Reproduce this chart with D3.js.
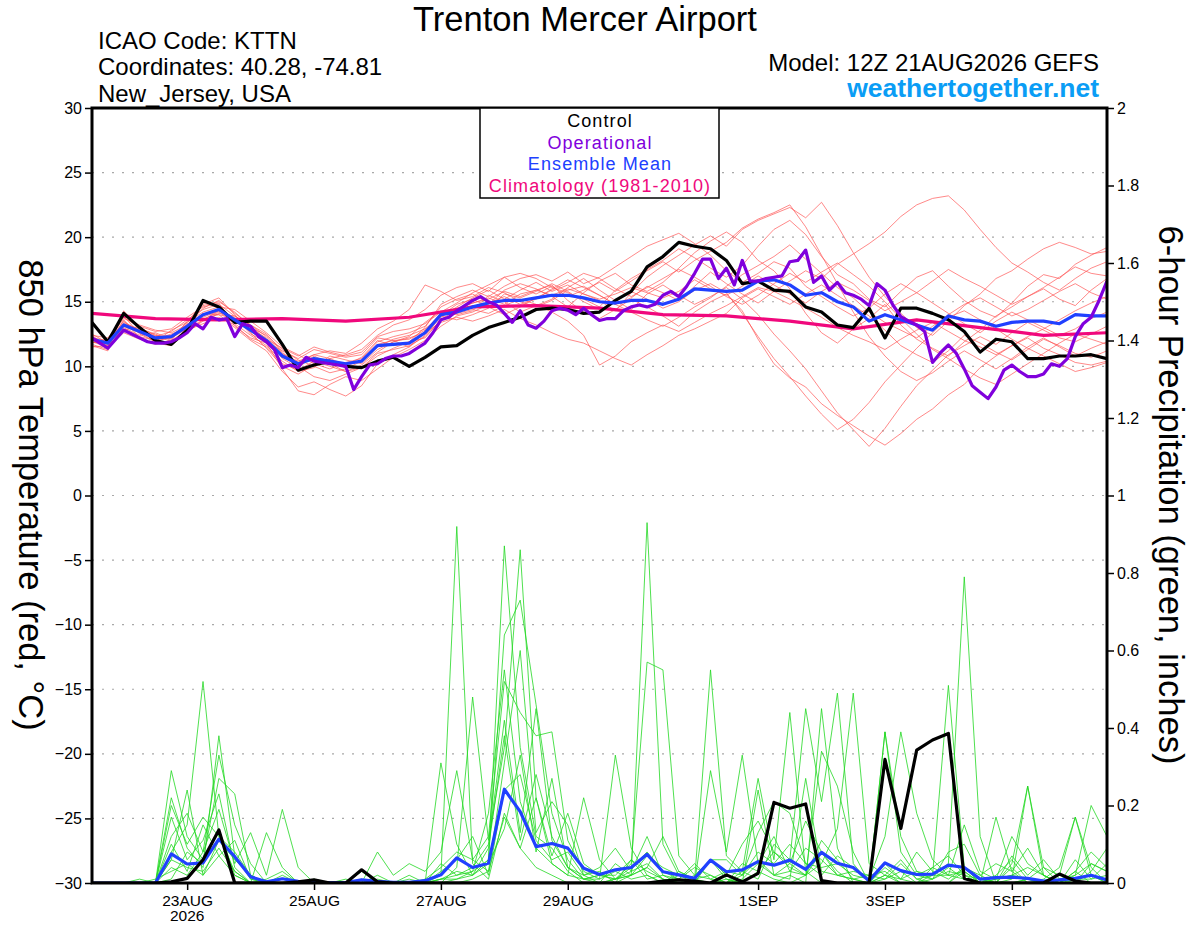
<!DOCTYPE html>
<html>
<head>
<meta charset="utf-8">
<script src="https://cdn.jsdelivr.net/npm/d3@7"></script>
<style>
  body { margin: 0; background: #fff; }
  svg { display: block; font-family: "Liberation Sans", Arial, Helvetica, sans-serif; }
</style>
</head>
<body>
<div id="chart"></div>
<script>
// run start and time steps (6-hourly ensemble, 3-hourly operational, daily climatology)
var runStart = Date.UTC(2026, 7, 21, 12);
var runEnd = Date.UTC(2026, 8, 6, 12);
var tickDates = ["2026-08-23", "2026-08-25", "2026-08-27", "2026-08-29", "2026-09-01", "2026-09-03", "2026-09-05"];
var tempTicks = [-30, -25, -20, -15, -10, -5, 0, 5, 10, 15, 20, 25, 30];
var precTicks = [0, 0.2, 0.4, 0.6, 0.8, 1, 1.2, 1.4, 1.6, 1.8, 2];

// 850 hPa temperature, control run (6-hourly)
var controlTemp = [13.4, 11.9, 14.1, 13.0, 12.0, 11.7, 12.8, 15.1, 14.6, 13.4, 13.5, 13.5, 11.7, 9.7, 10.1, 10.4,
  10.0, 9.9, 10.4, 10.7, 10.0, 10.7, 11.5, 11.6, 12.4, 13.0, 13.4, 13.8, 14.4, 14.5, 14.4, 14.1,
  14.2, 15.1, 15.8, 17.7, 18.5, 19.6, 19.3, 19.1, 18.2, 16.4, 16.6, 15.9, 15.8, 14.6, 14.2, 13.2,
  13.0, 14.5, 12.2, 14.5, 14.5, 14.1, 13.6, 12.7, 11.1, 12.1, 11.9, 10.6, 10.6, 10.8, 10.8, 10.9, 10.6];

// ensemble mean (6-hourly)
var meanTemp = [12.1, 11.8, 13.2, 12.7, 12.2, 12.3, 13.1, 14.0, 14.4, 13.6, 12.8, 12.0, 10.8, 10.2, 10.6, 10.4,
  10.2, 10.4, 11.6, 11.7, 11.8, 12.6, 14.0, 14.2, 14.6, 14.9, 15.1, 15.1, 15.3, 15.5, 15.5, 15.3,
  15.0, 14.9, 15.1, 15.1, 14.8, 15.2, 16.0, 15.9, 15.8, 15.9, 16.6, 16.7, 16.3, 15.5, 15.7, 15.0,
  14.6, 13.5, 14.0, 13.6, 13.2, 12.8, 13.9, 13.6, 13.5, 13.1, 13.4, 13.5, 13.5, 13.3, 14.0, 13.9, 13.9];

// operational run (3-hourly)
var operTemp = [12.2, 11.8, 11.4, 12.1, 12.8, 12.5, 12.2, 11.9, 11.8, 11.8, 11.9, 12.2, 12.6, 13.3, 12.9, 13.8,
  13.6, 13.7, 12.3, 13.3, 13.1, 12.3, 11.9, 11.3, 9.9, 10.1, 9.9, 10.7, 10.4, 10.3, 10.2, 10.1,
  10.0, 8.2, 9.2, 10.1, 10.2, 10.6, 10.8, 10.8, 11.0, 11.4, 11.8, 12.6,
  13.6, 13.8, 14.3, 14.7, 15.1, 15.4, 15.0, 14.75, 14.1, 13.4, 14.3, 13.2, 12.95, 13.5, 14.3, 14.5,
  14.35, 14.0, 14.5, 14.0, 13.55, 13.7, 13.7, 14.3, 14.6, 14.75, 14.6, 14.8, 15.5, 15.8, 15.4, 16.2,
  17.2, 18.3, 18.3, 16.8, 17.6, 16.3, 18.2, 16.6, 16.6, 16.8,
  16.9, 17.0, 18.1, 18.2, 19.0, 16.5, 17.0, 15.9, 16.5, 15.7, 15.5, 15.2, 14.7, 16.4, 15.9, 14.75,
  13.85, 13.5, 13.2, 12.7, 10.3, 11.06, 11.65, 11.0, 9.8, 8.5, 8.0, 7.5, 8.4, 9.7, 10.1, 9.6,
  9.2, 9.2, 9.4, 10.2, 10.0, 10.6, 12.3, 13.3, 13.8, 15.1, 16.6];

// climatology 1981-2010 (daily at 12Z)
var climTemp = [14.1, 13.7, 13.6, 13.7, 13.5, 13.8, 14.6, 14.7, 14.5, 14.0, 13.9, 13.5, 12.9, 13.6, 13.0, 12.4, 12.6];

// ensemble members, temperature (6-hourly)
var tempMembers = [
  [11.6, 11.2, 14.3, 12.9, 12.5, 12.0, 13.5, 14.8, 15.3, 14.0, 12.6, 11.4, 10.0, 9.4, 10.1, 10.6, 10.9, 11.3, 12.4, 13.2, 13.6, 14.4, 15.5, 16.1, 16.4, 15.8, 16.9, 17.2, 16.8, 16.1, 15.7, 15.2, 14.6, 15.9, 16.8, 17.5, 18.2, 19.1, 18.4, 17.6, 16.9, 17.8, 19.3, 20.6, 21.3, 20.2, 18.5, 17.1, 16.4, 15.2, 14.6, 15.8, 16.9, 17.4, 16.2, 15.1, 14.3, 13.8, 14.9, 16.2, 17.1, 16.8, 17.9, 18.6, 19.2],
  [12.4, 11.5, 13.6, 12.2, 11.8, 11.6, 12.7, 13.5, 14.1, 13.9, 13.2, 12.5, 11.1, 10.0, 9.2, 8.9, 9.4, 9.9, 10.8, 11.4, 11.9, 12.2, 13.6, 14.4, 14.9, 15.3, 14.8, 15.6, 15.9, 16.3, 15.1, 14.2, 13.7, 14.4, 15.2, 14.6, 13.9, 13.1, 14.2, 15.0, 15.6, 14.3, 12.1, 10.2, 9.1, 8.4, 7.1, 6.2, 5.4, 4.6, 3.9, 4.8, 5.9, 6.7, 7.8, 8.6, 9.9, 10.8, 11.6, 12.2, 11.4, 10.9, 10.3, 10.1, 10.4],
  [12.0, 11.9, 12.8, 13.1, 12.7, 12.9, 13.8, 14.6, 14.9, 13.1, 12.2, 11.8, 9.8, 8.1, 7.8, 8.6, 9.2, 8.9, 9.8, 10.7, 11.3, 12.0, 13.1, 13.9, 14.2, 14.8, 15.9, 16.4, 16.0, 15.4, 14.6, 15.7, 16.6, 17.2, 16.3, 15.8, 16.5, 17.6, 18.8, 19.7, 20.4, 19.6, 18.2, 17.4, 16.0, 14.1, 12.6, 11.8, 12.9, 13.7, 14.8, 13.2, 12.1, 11.4, 10.8, 11.9, 12.8, 13.9, 14.6, 15.4, 16.0, 15.2, 14.7, 15.9, 16.8],
  [11.8, 12.1, 13.9, 12.5, 11.9, 12.8, 13.4, 14.2, 14.6, 14.4, 13.5, 12.6, 11.5, 10.9, 10.2, 9.8, 10.3, 10.6, 11.9, 12.3, 12.6, 13.1, 14.6, 15.2, 15.6, 14.9, 15.4, 14.8, 15.2, 16.0, 16.7, 16.1, 15.5, 14.8, 15.3, 16.2, 15.7, 15.1, 16.2, 17.3, 16.4, 15.6, 14.9, 15.8, 16.6, 17.4, 16.8, 17.9, 18.7, 19.5, 20.4, 21.6, 22.5, 23.0, 23.2, 22.1, 20.6, 19.2, 18.0, 17.3, 16.5, 15.9, 16.8, 17.6, 18.1],
  [12.3, 11.4, 13.1, 12.6, 12.4, 11.9, 12.6, 13.6, 14.2, 13.4, 12.9, 12.2, 10.6, 9.9, 10.8, 10.2, 9.6, 10.1, 11.1, 11.9, 12.3, 13.4, 14.3, 14.0, 14.3, 15.5, 15.0, 14.2, 14.7, 15.2, 16.1, 16.8, 15.9, 15.1, 14.4, 15.6, 16.3, 15.5, 14.8, 15.4, 16.1, 15.2, 14.0, 12.5, 11.2, 9.8, 8.1, 6.4, 5.1, 3.8, 5.2, 6.9, 8.5, 9.7, 10.9, 11.6, 12.3, 11.7, 12.6, 13.4, 12.8, 12.2, 11.9, 12.5, 13.1],
  [12.0, 11.6, 13.4, 12.8, 12.1, 12.5, 13.0, 13.8, 14.3, 13.8, 12.5, 11.9, 11.2, 10.6, 11.3, 11.0, 10.7, 10.9, 12.2, 12.0, 11.5, 12.4, 13.8, 14.6, 15.3, 15.9, 15.2, 15.9, 16.5, 15.8, 16.3, 15.6, 15.1, 14.3, 15.7, 16.9, 17.8, 18.6, 19.4, 20.1, 19.3, 20.6, 21.3, 21.8, 22.3, 21.5, 22.7, 20.9, 18.8, 16.9, 15.4, 14.1, 13.0, 12.4, 13.5, 14.7, 15.6, 16.8, 17.4, 18.3, 19.1, 19.6, 19.2, 18.7, 18.9],
  [11.9, 11.7, 12.9, 12.3, 12.0, 12.2, 12.9, 13.9, 14.5, 13.3, 12.4, 11.6, 10.4, 9.6, 9.9, 10.8, 10.5, 10.2, 11.3, 11.9, 12.2, 12.6, 13.4, 13.8, 13.5, 13.9, 14.4, 13.7, 13.2, 12.6, 12.1, 11.8, 11.2, 10.6, 10.1, 10.9, 11.6, 12.4, 12.9, 13.5, 14.1, 15.3, 16.0, 15.4, 14.8, 15.6, 16.3, 15.5, 14.7, 13.9, 12.8, 11.6, 10.9, 10.3, 11.2, 12.4, 11.8, 11.1, 10.5, 11.3, 12.1, 11.6, 11.0, 10.7, 11.2],
  [12.2, 12.0, 13.7, 13.2, 12.8, 12.6, 13.2, 14.5, 15.1, 14.1, 13.2, 12.3, 11.0, 10.3, 10.9, 10.6, 10.1, 10.7, 12.0, 11.6, 11.9, 13.0, 14.8, 15.4, 15.9, 15.4, 16.2, 16.8, 17.1, 16.6, 17.3, 16.4, 16.9, 17.7, 18.5, 19.3, 19.8, 20.3, 19.5, 18.6, 17.4, 16.5, 17.2, 18.1, 17.6, 16.2, 15.4, 14.6, 13.9, 14.5, 15.6, 16.4, 15.7, 14.9, 14.1, 13.3, 12.6, 13.5, 14.2, 13.6, 13.0, 12.4, 12.9, 13.7, 14.2],
  [11.7, 11.3, 13.0, 12.4, 12.6, 12.1, 13.3, 13.7, 14.0, 13.7, 13.0, 12.4, 11.3, 10.5, 10.0, 9.5, 9.8, 10.4, 11.5, 12.1, 12.4, 12.9, 13.9, 13.6, 14.0, 14.5, 15.6, 15.3, 15.8, 16.4, 15.8, 15.0, 14.4, 15.0, 15.8, 15.2, 14.5, 15.0, 15.9, 16.4, 15.7, 14.1, 12.3, 10.6, 9.2, 7.7, 6.3, 5.1, 5.9, 7.2, 8.8, 10.1, 11.4, 12.6, 13.8, 14.3, 13.6, 12.9, 12.1, 11.4, 10.8, 10.2, 9.6, 9.9, 10.3],
  [12.5, 11.8, 13.3, 12.9, 12.3, 12.7, 13.6, 14.4, 14.8, 13.9, 13.0, 12.0, 10.9, 10.4, 10.9, 11.2, 11.0, 11.8, 12.9, 13.5, 14.4, 16.3, 15.8, 15.1, 15.4, 16.1, 15.7, 15.0, 14.6, 15.1, 15.9, 16.2, 15.5, 14.8, 14.2, 13.6, 13.1, 13.8, 14.6, 15.3, 16.2, 17.1, 17.8, 18.5, 19.4, 18.3, 17.2, 16.1, 15.3, 14.2, 13.4, 12.8, 12.2, 13.1, 14.0, 14.8, 15.3, 14.6, 13.9, 14.4, 15.1, 15.8, 16.4, 15.7, 15.2],
  [11.9, 11.5, 12.6, 12.1, 11.7, 12.0, 12.8, 13.3, 13.8, 13.2, 12.1, 11.5, 10.2, 9.7, 10.4, 10.0, 9.6, 9.9, 11.0, 11.3, 11.6, 12.3, 13.6, 14.1, 14.4, 14.1, 14.7, 15.2, 14.8, 14.2, 13.5, 12.4, 10.1, 10.8, 11.9, 12.6, 13.2, 12.7, 13.4, 14.1, 14.7, 15.4, 16.1, 15.8, 15.2, 14.5, 13.8, 13.0, 12.4, 11.9, 11.3, 12.1, 12.8, 13.4, 12.7, 12.0, 11.5, 10.9, 11.6, 12.3, 12.9, 13.6, 14.3, 14.9, 15.4],
  [12.1, 11.9, 13.5, 12.6, 11.9, 12.3, 13.1, 14.1, 14.0, 13.0, 12.0, 11.2, 9.6, 8.4, 8.8, 8.2, 7.7, 8.5, 10.2, 10.9, 11.5, 12.7, 13.9, 14.8, 15.2, 14.6, 14.0, 14.6, 15.3, 15.9, 16.5, 17.2, 16.8, 16.0, 15.4, 16.1, 16.8, 17.5, 16.9, 16.2, 15.4, 14.8, 15.5, 16.4, 17.2, 16.5, 17.3, 18.0, 17.1, 16.2, 15.0, 13.7, 12.5, 11.3, 10.6, 9.8, 9.1, 8.6, 9.4, 10.2, 11.0, 11.8, 12.5, 12.1, 11.7],
  [12.4, 12.2, 13.8, 13.0, 12.4, 12.2, 13.4, 14.7, 15.0, 14.2, 13.1, 12.1, 11.4, 10.8, 11.5, 11.1, 10.8, 11.1, 12.3, 12.7, 12.9, 13.3, 14.2, 14.9, 15.7, 16.3, 16.9, 16.1, 15.6, 16.2, 15.4, 15.9, 16.5, 15.8, 16.6, 17.4, 18.1, 17.3, 18.2, 18.9, 19.6, 20.7, 21.4, 21.9, 22.5, 20.8, 18.6, 16.4, 14.2, 12.3, 10.8, 9.6, 8.9, 9.5, 10.4, 11.2, 10.5, 9.8, 10.6, 11.5, 12.2, 11.5, 10.8, 11.4, 11.9],
  [11.5, 11.6, 13.2, 12.7, 12.2, 12.4, 12.9, 13.6, 14.3, 13.6, 12.7, 11.9, 10.7, 10.1, 10.6, 10.3, 10.0, 10.5, 11.7, 12.0, 12.1, 12.8, 14.1, 14.5, 14.9, 15.2, 15.8, 15.4, 15.9, 15.5, 16.0, 15.6, 15.2, 15.6, 16.1, 15.7, 15.3, 15.8, 16.7, 16.0, 15.5, 16.2, 17.0, 16.3, 15.6, 14.9, 15.8, 16.5, 15.9, 15.1, 14.3, 15.0, 15.7, 16.6, 17.5, 16.8, 16.2, 15.5, 14.8, 15.4, 16.1, 16.9, 17.7, 17.2, 17.0]
];

// 6-hour precipitation (inches), control and ensemble mean
var controlPrec = [0, 0, 0, 0, 0, 0.003, 0.012, 0.06, 0.137, 0, 0, 0, 0, 0.003, 0.008, 0,
  0, 0.034, 0.003, 0, 0, 0, 0, 0, 0, 0, 0, 0, 0, 0, 0, 0,
  0, 0, 0, 0, 0.005, 0.008, 0.005, 0, 0.021, 0.003, 0.025, 0.208, 0.193, 0.204, 0.006, 0,
  0, 0, 0.319, 0.141, 0.343, 0.369, 0.386, 0.012, 0, 0, 0, 0, 0, 0.023, 0.005, 0, 0];
var meanPrec = [0, 0, 0, 0, 0, 0.075, 0.049, 0.052, 0.113, 0.068, 0.016, 0.003, 0.011, 0.004, 0.002, 0.001,
  0.001, 0.008, 0.004, 0.002, 0.002, 0.006, 0.021, 0.065, 0.04, 0.051, 0.242, 0.184, 0.094, 0.102, 0.09, 0.038,
  0.022, 0.034, 0.04, 0.074, 0.029, 0.021, 0.012, 0.059, 0.029, 0.034, 0.055, 0.046, 0.059, 0.035, 0.079, 0.051,
  0.04, 0.006, 0.052, 0.032, 0.022, 0.023, 0.046, 0.04, 0.01, 0.014, 0.015, 0.012, 0.005, 0.008, 0.012, 0.02, 0.008];

// ensemble members, precipitation (6-hourly)
var precMembers = [
  [0, 0, 0, 0, 0, 0.08, 0.15, 0.52, 0.12, 0.03, 0, 0, 0, 0, 0, 0, 0, 0, 0.01, 0, 0, 0, 0.02, 0.92, 0.05, 0.01, 0.18, 0.09, 0.04, 0.02, 0, 0, 0, 0.01, 0.03, 0.12, 0.02, 0, 0, 0.06, 0.01, 0, 0.03, 0.01, 0, 0.02, 0.08, 0.03, 0, 0, 0.04, 0.01, 0, 0.02, 0.05, 0.79, 0.12, 0, 0, 0.01, 0, 0, 0.03, 0, 0],
  [0, 0, 0, 0, 0, 0.22, 0.09, 0.04, 0.38, 0.07, 0.01, 0, 0.02, 0, 0, 0, 0, 0, 0, 0, 0, 0, 0, 0.04, 0.48, 0.11, 0.35, 0.86, 0.22, 0.05, 0.02, 0.01, 0, 0, 0.02, 0.04, 0.01, 0, 0, 0, 0, 0.03, 0.27, 0.06, 0.44, 0.03, 0, 0, 0, 0, 0.02, 0, 0, 0, 0, 0.04, 0.01, 0, 0.05, 0.25, 0.02, 0, 0, 0, 0],
  [0, 0, 0, 0, 0, 0.29, 0.12, 0.06, 0.27, 0.23, 0.02, 0, 0, 0, 0, 0, 0, 0.03, 0, 0, 0, 0, 0.31, 0.1, 0.02, 0.06, 0.87, 0.35, 0.12, 0.09, 0.03, 0, 0, 0.05, 0.02, 0.93, 0.1, 0.02, 0, 0, 0.01, 0, 0, 0, 0.02, 0, 0.45, 0.09, 0, 0, 0.02, 0.06, 0.01, 0, 0, 0.03, 0, 0, 0, 0.01, 0, 0.02, 0.17, 0.04, 0],
  [0, 0, 0, 0, 0, 0.12, 0.18, 0.08, 0.19, 0.05, 0.13, 0.02, 0.19, 0.04, 0, 0, 0, 0, 0, 0, 0, 0, 0.05, 0.02, 0.03, 0.06, 0.64, 0.73, 0.46, 0.18, 0.06, 0.01, 0.02, 0.01, 0.05, 0.57, 0.55, 0.07, 0.02, 0.01, 0, 0, 0.24, 0.02, 0.05, 0.02, 0.34, 0.25, 0.08, 0, 0.01, 0.03, 0, 0.01, 0.08, 0.1, 0.02, 0, 0.04, 0, 0, 0.01, 0.02, 0.2, 0.12],
  [0, 0, 0, 0.01, 0, 0.17, 0.06, 0.11, 0.23, 0.04, 0, 0.01, 0.03, 0, 0, 0, 0, 0, 0.08, 0.02, 0.05, 0.03, 0.08, 0.29, 0.06, 0.12, 0.52, 0.44, 0.38, 0.39, 0.11, 0.03, 0.01, 0.33, 0.09, 0.02, 0, 0.03, 0.01, 0.55, 0.07, 0.03, 0.01, 0.1, 0.06, 0.45, 0.21, 0.49, 0.05, 0, 0.39, 0.12, 0.03, 0.02, 0.51, 0.04, 0, 0, 0.01, 0.25, 0.04, 0, 0.02, 0.05, 0.03],
  [0, 0, 0, 0, 0, 0.06, 0.24, 0.02, 0.11, 0.06, 0.02, 0, 0, 0, 0.01, 0, 0, 0.01, 0, 0, 0.02, 0, 0.03, 0.06, 0.12, 0.02, 0.24, 0.28, 0.11, 0.06, 0.08, 0.02, 0.03, 0, 0.06, 0.03, 0.01, 0, 0, 0.29, 0.08, 0.33, 0.05, 0.12, 0.03, 0.02, 0.11, 0.06, 0.01, 0, 0.39, 0.08, 0.02, 0.01, 0.04, 0.01, 0, 0.17, 0.03, 0, 0.01, 0.04, 0.17, 0.02, 0],
  [0, 0, 0, 0, 0, 0.04, 0.02, 0.08, 0.33, 0.15, 0.05, 0, 0, 0, 0, 0, 0.01, 0, 0, 0, 0, 0, 0.01, 0.03, 0.02, 0.09, 0.38, 0.11, 0.28, 0.12, 0.04, 0.01, 0.01, 0.03, 0.01, 0.02, 0, 0.02, 0.01, 0.06, 0.02, 0.1, 0.16, 0.08, 0.05, 0.16, 0.08, 0.02, 0.01, 0.02, 0.03, 0, 0, 0.04, 0.02, 0.01, 0, 0.02, 0.06, 0.01, 0, 0, 0.03, 0.08, 0.04],
  [0, 0, 0, 0, 0.01, 0.03, 0.05, 0.02, 0.07, 0.11, 0.01, 0, 0, 0, 0, 0, 0, 0, 0, 0, 0, 0, 0, 0.01, 0.03, 0.18, 0.55, 0.21, 0.09, 0.05, 0.02, 0.22, 0.06, 0.01, 0.04, 0.08, 0.03, 0.01, 0.04, 0.02, 0, 0.02, 0.13, 0.21, 0.18, 0.05, 0.02, 0.07, 0.04, 0.01, 0.12, 0.39, 0.18, 0.06, 0.02, 0.03, 0, 0.01, 0.12, 0.05, 0.02, 0, 0.01, 0.02, 0],
  [0, 0, 0, 0, 0, 0.1, 0.03, 0.15, 0.07, 0.02, 0, 0, 0.01, 0, 0, 0, 0, 0, 0.02, 0, 0, 0.01, 0.04, 0.08, 0.06, 0.03, 0.31, 0.6, 0.13, 0.21, 0.15, 0.02, 0, 0.01, 0.02, 0.07, 0.04, 0.02, 0.01, 0, 0, 0.05, 0.03, 0.08, 0.04, 0.02, 0.05, 0.14, 0.49, 0.05, 0.02, 0.01, 0.08, 0.03, 0.01, 0.04, 0.02, 0.05, 0.03, 0.09, 0.02, 0, 0, 0.03, 0.09],
  [0, 0, 0, 0, 0, 0.2, 0.1, 0.17, 0.12, 0.08, 0.02, 0, 0, 0, 0, 0, 0, 0, 0, 0, 0, 0, 0.01, 0.02, 0.04, 0.1, 0.42, 0.13, 0.45, 0.11, 0.04, 0.01, 0.02, 0.02, 0.06, 0.01, 0.02, 0.01, 0.05, 0.01, 0.03, 0.02, 0.06, 0.02, 0.01, 0.27, 0.03, 0.02, 0.03, 0.02, 0.01, 0.05, 0.01, 0.02, 0.02, 0.15, 0.03, 0.01, 0.02, 0.04, 0.02, 0, 0.06, 0.01, 0.02],
  [0, 0, 0, 0, 0, 0.06, 0.04, 0.03, 0.09, 0.03, 0, 0, 0, 0, 0, 0, 0, 0, 0, 0, 0, 0, 0.01, 0.01, 0.02, 0.05, 0.14, 0.33, 0.08, 0.27, 0.04, 0.02, 0.04, 0.09, 0.03, 0.05, 0.01, 0, 0.02, 0.06, 0.06, 0.02, 0.08, 0.05, 0.1, 0.05, 0.04, 0.05, 0.02, 0.01, 0.05, 0.03, 0.02, 0.04, 0.07, 0.02, 0.01, 0, 0.07, 0.02, 0.06, 0.01, 0, 0.05, 0.03],
  [0, 0, 0, 0, 0, 0.01, 0.08, 0.05, 0.14, 0.02, 0, 0.13, 0.04, 0, 0, 0, 0, 0, 0, 0, 0.01, 0, 0, 0, 0.01, 0.03, 0.17, 0.09, 0.22, 0.07, 0.18, 0.05, 0.02, 0.01, 0.02, 0.04, 0.12, 0.03, 0.01, 0.02, 0, 0.01, 0.05, 0.02, 0.03, 0.09, 0.06, 0.02, 0.01, 0, 0.05, 0.01, 0.03, 0.01, 0.03, 0.02, 0, 0.01, 0.02, 0.01, 0.04, 0.02, 0.01, 0.01, 0.05]
];

var colors = {
  member: "#ff5050", precip: "#22d822", control: "#000000", oper: "#8000dc",
  mean: "#2040ff", clim: "#f0087c", site: "#0a9df5"
};

var W = 1200, H = 927;
var plot = { left: 92, right: 1107, top: 108, bottom: 883 };

var svg = d3.select("#chart").append("svg")
    .attr("width", W)
    .attr("height", H);

var hour = 3600 * 1000;
var x = d3.scaleUtc().domain([runStart, runEnd]).range([plot.left, plot.right]);
var yT = d3.scaleLinear().domain([-30, 30]).range([plot.bottom, plot.top]);
var yP = d3.scaleLinear().domain([0, 2]).range([plot.bottom, plot.top]);

var lineStep = function(stepHours, yScale) {
  return d3.line()
    .x(function(d, i) { return x(runStart + i * stepHours * hour); })
    .y(function(d) { return yScale(d); });
};

// clip to plot area
svg.append("clipPath").attr("id", "clip")
  .append("rect")
  .attr("x", plot.left).attr("y", plot.top)
  .attr("width", plot.right - plot.left).attr("height", plot.bottom - plot.top);

// dotted grid
svg.append("g")
  .selectAll("line")
  .data(tempTicks.filter(function(t) { return t > -30 && t < 30; }))
  .enter().append("line")
  .attr("x1", plot.left).attr("x2", plot.right)
  .attr("y1", function(d) { return yT(d); })
  .attr("y2", function(d) { return yT(d); })
  .attr("stroke", "#a8a8a8")
  .attr("stroke-width", 1.2)
  .attr("stroke-dasharray", "2,8");

var lines = svg.append("g").attr("clip-path", "url(#clip)");

// precipitation members
lines.append("g").selectAll("path")
  .data(precMembers).enter().append("path")
  .attr("fill", "none")
  .attr("stroke", colors.precip)
  .attr("stroke-width", 0.8)
  .attr("d", lineStep(6, yP));

// temperature members
lines.append("g").selectAll("path")
  .data(tempMembers).enter().append("path")
  .attr("fill", "none")
  .attr("stroke", colors.member)
  .attr("stroke-opacity", 0.85)
  .attr("stroke-width", 0.8)
  .attr("d", lineStep(6, yT));

var thick = function(data, color, step, scale) {
  lines.append("path")
    .datum(data)
    .attr("fill", "none")
    .attr("stroke", color)
    .attr("stroke-width", 3.2)
    .attr("stroke-linejoin", "round")
    .attr("d", lineStep(step, scale));
};

thick(climTemp, colors.clim, 24, yT);
thick(meanPrec, colors.mean, 6, yP);
thick(controlPrec, colors.control, 6, yP);
thick(controlTemp, colors.control, 6, yT);
thick(meanTemp, colors.mean, 6, yT);
thick(operTemp, colors.oper, 3, yT);

// axes
var tickFont = function(g) {
  g.select(".domain").remove();
  g.selectAll("text").attr("font-size", 16).attr("fill", "#000")
    .attr("font-family", "'Liberation Sans', Arial, sans-serif");
  g.selectAll("line").attr("stroke", "#000").attr("stroke-width", 1.5);
};

svg.append("g")
  .attr("transform", "translate(" + plot.left + ",0)")
  .call(d3.axisLeft(yT).tickValues(tempTicks).tickSize(7).tickPadding(3))
  .call(tickFont);

svg.append("g")
  .attr("transform", "translate(" + plot.right + ",0)")
  .call(d3.axisRight(yP).tickValues(precTicks).tickSize(7).tickPadding(3)
    .tickFormat(function(d) { return String(+d.toFixed(1)); }))
  .call(tickFont);

var fmtDay = d3.utcFormat("%-d%b");
var bottomAxis = svg.append("g")
  .attr("transform", "translate(0," + plot.bottom + ")")
  .call(d3.axisBottom(x)
    .tickValues(tickDates.map(function(s) { return new Date(s + "T00:00:00Z"); }))
    .tickSize(7).tickPadding(5)
    .tickFormat(function(d) { return fmtDay(d).toUpperCase(); }))
  .call(tickFont);
bottomAxis.selectAll("text").attr("font-size", 15.5);

svg.append("text")
  .attr("x", x(new Date(tickDates[0] + "T00:00:00Z")))
  .attr("y", 921)
  .attr("text-anchor", "middle")
  .attr("font-size", 15.5)
  .text("2026");

// frame
svg.append("rect")
  .attr("x", plot.left).attr("y", plot.top)
  .attr("width", plot.right - plot.left).attr("height", plot.bottom - plot.top)
  .attr("fill", "none")
  .attr("stroke", "#000")
  .attr("stroke-width", 3);

// legend
var legend = svg.append("g");
legend.append("rect")
  .attr("x", 480).attr("y", plot.top)
  .attr("width", 239).attr("height", 90)
  .attr("fill", "#fff")
  .attr("stroke", "#000")
  .attr("stroke-width", 1.5);
var legendItems = [
  { label: "Control", color: colors.control },
  { label: "Operational", color: colors.oper },
  { label: "Ensemble Mean", color: colors.mean },
  { label: "Climatology (1981-2010)", color: colors.clim }
];
legend.selectAll("text.item")
  .data(legendItems).enter().append("text")
  .attr("class", "item")
  .attr("x", 600)
  .attr("y", function(d, i) { return 127 + i * 21.5; })
  .attr("text-anchor", "middle")
  .attr("font-size", 18)
  .attr("letter-spacing", 1.1)
  .attr("fill", function(d) { return d.color; })
  .text(function(d) { return d.label; });

// titles
svg.append("text")
  .attr("x", 585).attr("y", 31)
  .attr("text-anchor", "middle")
  .attr("font-size", 34.5)
  .text("Trenton Mercer Airport");

var infoLines = ["ICAO Code: KTTN", "Coordinates: 40.28, -74.81", "New_Jersey, USA"];
svg.append("g").selectAll("text")
  .data(infoLines).enter().append("text")
  .attr("x", 98)
  .attr("y", function(d, i) { return 48.5 + i * 26.5; })
  .attr("font-size", 24)
  .text(function(d) { return d; });

svg.append("text")
  .attr("x", 1099).attr("y", 70.5)
  .attr("text-anchor", "end")
  .attr("font-size", 24)
  .text("Model: 12Z 21AUG2026 GEFS");

svg.append("text")
  .attr("x", 1099).attr("y", 97)
  .attr("text-anchor", "end")
  .attr("font-size", 26.5)
  .attr("font-weight", "bold")
  .attr("fill", colors.site)
  .text("weathertogether.net");

// axis titles
svg.append("text")
  .attr("transform", "translate(19,495) rotate(90)")
  .attr("text-anchor", "middle")
  .attr("font-size", 34.5)
  .text("850 hPa Temperature (red, \u00B0C)");

svg.append("text")
  .attr("transform", "translate(1159,495) rotate(90)")
  .attr("text-anchor", "middle")
  .attr("font-size", 34.5)
  .text("6-hour Precipitation (green, inches)");
</script>
</body>
</html>
